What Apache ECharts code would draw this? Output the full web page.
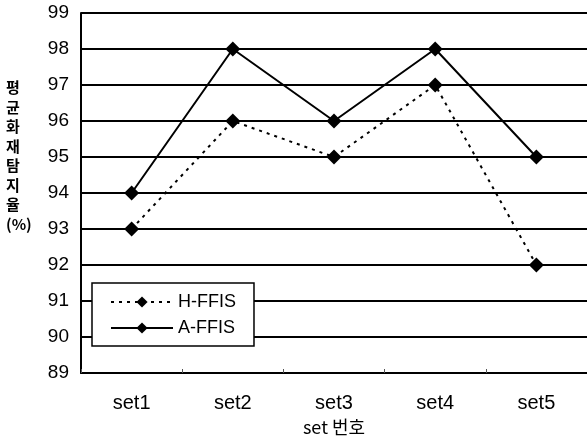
<!DOCTYPE html>
<html><head><meta charset="utf-8">
<script src="https://cdn.jsdelivr.net/npm/echarts@6/dist/echarts.min.js"></script>
<style>html,body{margin:0;padding:0;background:#fff}#c{width:587px;height:447px}</style>
</head><body><div id="c"></div>
<script>
const categories = ['set1','set2','set3','set4','set5'];
const hFFIS = [93, 96, 95, 97, 92];
const aFFIS = [94, 98, 96, 98, 95];
const yMin = 89, yMax = 99, yStep = 1;
const yTitle = '평\n균\n화\n재\n탐\n지\n율\n(%)';
const xTitle = 'set 번호';

const chart = echarts.init(document.getElementById('c'));
chart.setOption({
  animation: false,
  backgroundColor: '#fff',
  grid: {left: 81, top: 13, bottom: 74, right: -3, containLabel: false},
  legend: {
    orient: 'vertical', left: 92, top: 283,
    backgroundColor: '#fff', borderColor: '#000', borderWidth: 1.5,
    padding: [10, 18, 9, 18], itemGap: 8, itemWidth: 62, itemHeight: 14,
    textStyle: {fontFamily: 'Liberation Sans', fontSize: 18, color: '#000'},
    data: ['H-FFIS', 'A-FFIS']
  },
  xAxis: {
    type: 'category', data: categories, boundaryGap: true,
    axisLine: {lineStyle: {color: '#000', width: 2}},
    axisTick: {show: true, inside: true, length: 4, lineStyle: {color: '#555', width: 1}},
    axisLabel: {fontFamily: 'Liberation Sans', fontSize: 20, color: '#000', margin: 20},
    name: xTitle, nameLocation: 'middle', nameGap: 42,
    nameTextStyle: {fontFamily: 'Noto Sans CJK KR', fontSize: 18, color: '#000'}
  },
  yAxis: {
    type: 'value', min: yMin, max: yMax, interval: yStep,
    axisLine: {show: true, lineStyle: {color: '#000', width: 2}},
    axisTick: {show: false},
    splitLine: {lineStyle: {color: '#000', width: 2}},
    axisLabel: {fontFamily: 'Liberation Sans', fontSize: 19, color: '#000', margin: 12}
  },
  graphic: [{
    type: 'text', left: 6, top: 78,
    style: {text: yTitle, fontFamily: 'Noto Sans CJK KR', fontSize: 15, lineHeight: 19.5,
            fill: '#000', align: 'center', fontWeight: 'bold', width: 28}
  }],
  series: [
    {name: 'H-FFIS', type: 'line', data: hFFIS, symbol: 'diamond', symbolSize: 15,
     itemStyle: {color: '#000'}, lineStyle: {color: '#000', width: 2, type: [3, 5]}},
    {name: 'A-FFIS', type: 'line', data: aFFIS, symbol: 'diamond', symbolSize: 15,
     itemStyle: {color: '#000'}, lineStyle: {color: '#000', width: 2}}
  ]
});
</script></body></html>
